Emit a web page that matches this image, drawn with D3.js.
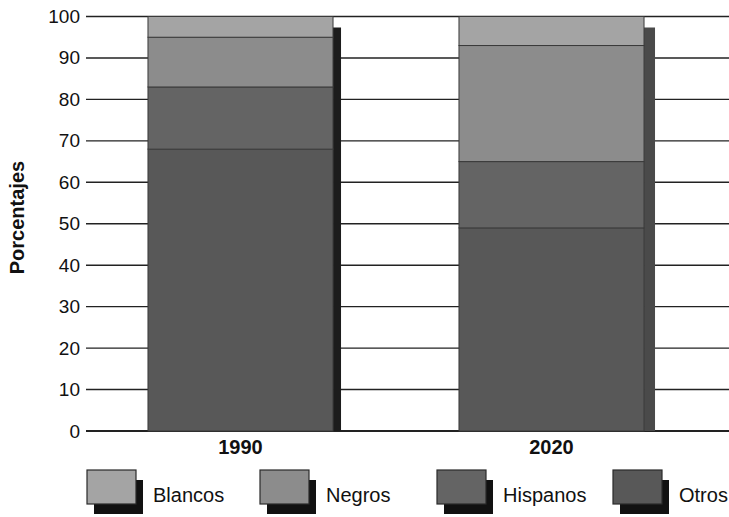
<!DOCTYPE html>
<html>
<head>
<meta charset="utf-8">
<script src="https://cdn.jsdelivr.net/npm/d3@7"></script>
<style>
  html, body { margin: 0; padding: 0; background: #fff; }
  svg { display: block; }
  text { font-family: "Liberation Sans", Arial, Helvetica, sans-serif; fill: #111; }
</style>
</head>
<body>
<svg id="chart" width="729" height="517"></svg>
<script>
// Years shown as bars
const years = ["1990", "2020"];
// Stack order from bottom to top
const groups = ["Otros", "Hispanos", "Negros", "Blancos"];
// Legend order, left to right
const legendOrder = ["Blancos", "Negros", "Hispanos", "Otros"];
// Percentages per group, one value per year
const otros    = [68, 49];
const hispanos = [15, 16];
const negros   = [12, 28];
const blancos  = [5, 7];
const yTicks = [0, 10, 20, 30, 40, 50, 60, 70, 80, 90, 100];
const yTitle = "Porcentajes";

const rows = years.map((yr, i) => ({
  year: yr,
  Otros: otros[i], Hispanos: hispanos[i], Negros: negros[i], Blancos: blancos[i]
}));

const svg = d3.select("#chart");
const W = 729;

const x = d3.scaleBand().domain(years).range([85, 707])
  .paddingInner(0.405).paddingOuter(0.2025);
const y = d3.scaleLinear().domain([0, 100]).range([431, 16.5]);

const color = d3.scaleOrdinal()
  .domain(["Blancos", "Negros", "Hispanos", "Otros"])
  .range(["#a4a4a4", "#8c8c8c", "#646464", "#585858"]);

// Horizontal rules behind the bars
svg.append("g").selectAll("line").data(yTicks).join("line")
  .attr("x1", 86).attr("x2", W)
  .attr("y1", d => y(d)).attr("y2", d => y(d))
  .attr("stroke", "#222").attr("stroke-width", d => d === 0 ? 2 : 1.4);

// Tick labels
svg.append("g").selectAll("text").data(yTicks).join("text")
  .attr("x", 80).attr("y", d => y(d))
  .attr("text-anchor", "end").attr("dominant-baseline", "central")
  .style("font-size", "19px")
  .text(d => d);

// Axis title
svg.append("text")
  .attr("transform", `translate(24,${y(51.5)}) rotate(-90)`)
  .attr("text-anchor", "middle")
  .style("font-size", "20px").style("font-weight", "bold")
  .text(yTitle);

// Drop shadows on the right side of each bar
const shadowFill = ["#1c1c1c", "#4a4a4a"];
const shadowW = [8, 11];
svg.append("g").selectAll("rect").data(rows).join("rect")
  .attr("x", d => x(d.year) + x.bandwidth())
  .attr("width", (d, i) => shadowW[i])
  .attr("y", y(100) + 11)
  .attr("height", y(0) - y(100) - 11)
  .attr("fill", (d, i) => shadowFill[i]);

// Stacked segments
const series = d3.stack().keys(groups)(rows);
svg.append("g").selectAll("g").data(series).join("g")
  .attr("fill", d => color(d.key))
  .selectAll("rect").data(d => d).join("rect")
  .attr("x", d => x(d.data.year))
  .attr("width", x.bandwidth())
  .attr("y", d => y(d[1]))
  .attr("height", d => y(d[0]) - y(d[1]))
  .attr("stroke", "#3a3a3a").attr("stroke-width", 1);

// Category labels
svg.append("g").selectAll("text").data(years).join("text")
  .attr("x", d => x(d) + x.bandwidth() / 2)
  .attr("y", 454)
  .attr("text-anchor", "middle")
  .style("font-size", "20px").style("font-weight", "bold")
  .text(d => d);

// Legend
const legendX = [87, 260, 437, 613];
const lg = svg.append("g").selectAll("g").data(legendOrder).join("g")
  .attr("transform", (d, i) => `translate(${legendX[i]},470)`);
lg.append("rect").attr("x", 7).attr("y", 10).attr("width", 49).attr("height", 34)
  .attr("fill", "#111");
lg.append("rect").attr("x", 0).attr("y", 0).attr("width", 49).attr("height", 34)
  .attr("fill", d => color(d)).attr("stroke", "#2a2a2a").attr("stroke-width", 1.2);
lg.append("text")
  .attr("x", 66).attr("y", 32)
  .style("font-size", "20px")
  .text(d => d);
</script>
</body>
</html>
